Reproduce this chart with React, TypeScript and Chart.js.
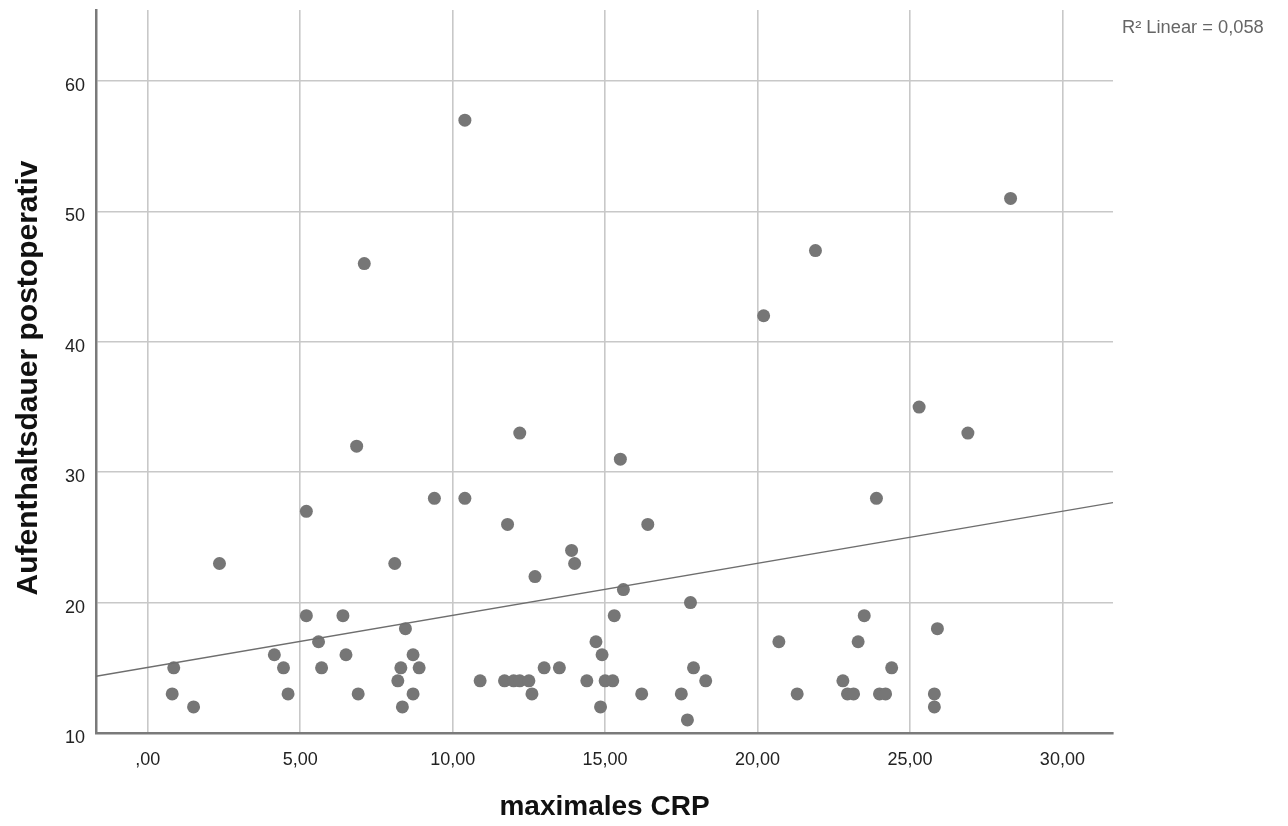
import React, { useEffect, useRef } from "react";
import { Chart, registerables } from "chart.js";

Chart.register(...registerables);

const crpValues = [
  0.8, 0.85, 1.5, 2.35, 4.15, 4.45, 4.6, 5.2, 5.2, 5.6, 5.7, 6.4, 6.5, 6.85, 6.9, 7.1,
  8.1, 8.2, 8.3, 8.35, 8.45, 8.7, 8.7, 8.9, 9.4, 10.4, 10.4, 10.9, 11.8, 11.7, 12.0,
  12.2, 12.2, 12.5, 12.6, 12.7, 13.0, 13.5, 13.9, 14.0, 14.4, 14.7, 14.85, 14.9, 15.0,
  15.25, 15.3, 15.5, 15.6, 16.2, 16.4, 17.5, 17.7, 17.8, 17.9, 18.3, 20.2, 20.7, 21.3,
  21.9, 22.8, 22.95, 23.15, 23.3, 23.5, 23.9, 24.0, 24.2, 24.4, 25.3, 25.9, 25.8, 25.8,
  26.9, 28.3,
];
const stayValues = [
  13, 15, 12, 23, 16, 15, 13, 27, 19, 17, 15, 19, 16, 32, 13, 46,
  23, 14, 15, 12, 18, 16, 13, 15, 28, 28, 57, 14, 26, 14, 14,
  33, 14, 14, 13, 22, 15, 15, 24, 23, 14, 17, 12, 16, 14,
  14, 19, 31, 21, 13, 26, 13, 11, 20, 15, 14, 42, 17, 13,
  47, 14, 13, 13, 17, 19, 28, 13, 13, 15, 35, 18, 13, 12,
  33, 51,
];

const fitLineX = [-1.7, 31.66];
const fitLineY = [14.35, 27.67];

const xTicks = [0, 5, 10, 15, 20, 25, 30];
const xTickLabels = [",00", "5,00", "10,00", "15,00", "20,00", "25,00", "30,00"];
const yTicks = [10, 20, 30, 40, 50, 60];
const yTickLabels = ["10", "20", "30", "40", "50", "60"];

const xTitle = "maximales CRP";
const yTitle = "Aufenthaltsdauer postoperativ";
const fitLabel = "R² Linear = 0,058";

const FONT = "'Liberation Sans', Arial, Helvetica, sans-serif";

export default function App() {
  const canvasRef = useRef<HTMLCanvasElement | null>(null);

  useEffect(() => {
    const canvas = canvasRef.current;
    if (!canvas) return;

    const titlePlugin = {
      id: "titles",
      afterDraw(chart: any) {
        const ctx = chart.ctx;
        const area = chart.chartArea;
        ctx.save();
        ctx.fillStyle = "#111";
        ctx.textAlign = "center";
        ctx.textBaseline = "middle";
        ctx.font = `bold 28px ${FONT}`;
        ctx.fillText(xTitle, (area.left + area.right) / 2, 807);
        ctx.translate(29, 378);
        ctx.rotate(-Math.PI / 2);
        ctx.font = `bold 30px ${FONT}`;
        ctx.fillText(yTitle, 0, 0);
        ctx.restore();

        ctx.save();
        ctx.fillStyle = "#666";
        ctx.font = `18.3px ${FONT}`;
        ctx.textAlign = "left";
        ctx.textBaseline = "middle";
        ctx.fillText(fitLabel, 1122, 28);
        ctx.restore();
      },
    };

    const points = crpValues.map((x, i) => ({ x, y: stayValues[i] }));
    const linePts = fitLineX.map((x, i) => ({ x, y: fitLineY[i] }));

    const chart = new Chart(canvas, {
      type: "scatter",
      data: {
        datasets: [
          {
            data: linePts,
            showLine: true,
            borderColor: "#6e6e6e",
            borderWidth: 1.3,
            pointRadius: 0,
            pointHoverRadius: 0,
            fill: false,
          },
          {
            data: points,
            backgroundColor: "#767676",
            borderWidth: 0,
            pointRadius: 6.5,
            pointHoverRadius: 6.5,
          },
        ],
      },
      options: {
        animation: false,
        responsive: false,
        maintainAspectRatio: false,
        layout: { padding: { top: 10, right: 175, left: 0, bottom: 0 } },
        plugins: {
          legend: { display: false },
          tooltip: { enabled: false },
          title: { display: false },
        },
        scales: {
          x: {
            type: "linear",
            min: -1.7,
            max: 31.66,
            afterFit(scale: any) {
              scale.height = 93;
              scale.paddingLeft = 0;
              scale.paddingRight = 0;
            },
            afterBuildTicks(scale: any) {
              scale.ticks = xTicks.map((v) => ({ value: v }));
            },
            ticks: {
              padding: 16,
              color: "#222",
              font: { family: FONT, size: 18 },
              maxRotation: 0,
              autoSkip: false,
              callback: (_v: any, i: number) => xTickLabels[i],
            },
            grid: { color: "#c8c8c8", lineWidth: 1.6, drawTicks: false },
            border: { display: true, color: "#7a7a7a", width: 2.5 },
          },
          y: {
            type: "linear",
            min: 10,
            max: 65.45,
            afterFit(scale: any) {
              scale.width = 96;
              scale.paddingTop = 0;
              scale.paddingBottom = 0;
            },
            afterBuildTicks(scale: any) {
              scale.ticks = yTicks.map((v) => ({ value: v }));
            },
            ticks: {
              padding: 11,
              labelOffset: 5,
              color: "#222",
              font: { family: FONT, size: 18 },
              autoSkip: false,
              callback: (_v: any, i: number) => yTickLabels[i],
            },
            grid: { color: "#c8c8c8", lineWidth: 1.6, drawTicks: false },
            border: { display: true, color: "#7a7a7a", width: 2.5 },
          },
        },
      },
      plugins: [titlePlugin],
    });

    return () => chart.destroy();
  }, []);

  return (
    <div style={{ position: "absolute", left: 0, top: 0, width: 1288, height: 826, background: "#fff" }}>
      <canvas ref={canvasRef} width={1288} height={826} style={{ width: 1288, height: 826, display: "block" }} />
    </div>
  );
}
